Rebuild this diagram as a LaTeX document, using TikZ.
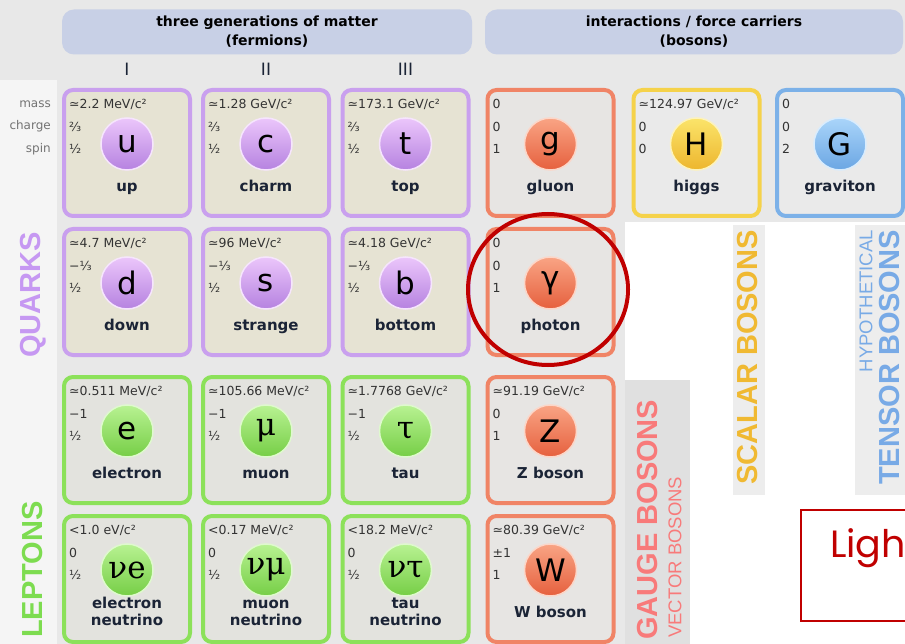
\documentclass[tikz,border=0pt]{standalone}
\usepackage{fontspec}
\setmainfont{DejaVu Sans}
\newfontfamily\arial{Liberation Sans}
\newfontfamily\grec{DejaVu Serif}
\newfontfamily\poppins{Poppins}
\usetikzlibrary{shapes.geometric}

\definecolor{quarkvora}{HTML}{C9A0EE}
\definecolor{quarkfons}{HTML}{E6E3D3}
\definecolor{quarkalt}{HTML}{EBC6FB}
\definecolor{quarkbaix}{HTML}{B682E0}
\definecolor{leptovora}{HTML}{8CE15A}
\definecolor{leptofons}{HTML}{E3E3DE}
\definecolor{leptoalt}{HTML}{B8F292}
\definecolor{leptobaix}{HTML}{76CE46}
\definecolor{gaugevora}{HTML}{F08466}
\definecolor{gaugefons}{HTML}{E7E5E3}
\definecolor{gaugealt}{HTML}{F9A484}
\definecolor{gaugebaix}{HTML}{E6603E}
\definecolor{higgsvora}{HTML}{F5D24A}
\definecolor{higgsfons}{HTML}{EAEAEA}
\definecolor{higgsalt}{HTML}{FBE46A}
\definecolor{higgsbaix}{HTML}{EDB62E}
\definecolor{gravvora}{HTML}{7CB1E8}
\definecolor{gravfons}{HTML}{EAEAEA}
\definecolor{gravalt}{HTML}{AAD5FA}
\definecolor{gravbaix}{HTML}{6BA6E3}
\definecolor{nomcol}{HTML}{1B2436}
\definecolor{capfons}{HTML}{C8D0E6}
\definecolor{vermell}{HTML}{C00000}

% cel.la: nom, centre, familia, simbol, etiqueta, massa, carrega, espin
\newcommand{\particula}[8]{%
  \node[cella=#3] (#1) at (#2) {};
  \node[bola=#3] (#1-b) at ([yshift=9pt]#1.center) {#4};
  \node[nom] (#1-n) at ([yshift=-34pt]#1.center) {\vphantom{bg}#5};
  \node[dada] (#1-m) at ([xshift=5pt,yshift=-14pt]#1.north west) {#6};
  \node[dada] (#1-q) at ([xshift=5pt,yshift=-37pt]#1.north west) {#7};
  \node[dada] (#1-s) at ([xshift=5pt,yshift=-59pt]#1.north west) {#8};
}

\begin{document}
\begin{tikzpicture}[x=1pt, y=-1pt,
  cella/.style={draw=#1vora, fill=#1fons, line width=4pt, rounded corners=9pt,
    minimum size=126pt, inner sep=0pt, outer sep=0pt},
  bola/.style={circle, minimum size=52pt, inner sep=0pt, top color=#1alt,
    bottom color=#1baix, draw=white!55!#1alt, line width=1.5pt,
    font=\fontsize{31}{31}\selectfont},
  nom/.style={align=center, text=nomcol, font=\bfseries\fontsize{15}{17}\selectfont},
  dada/.style={anchor=west, inner sep=0pt, text=black!80,
    font=\fontsize{12.5}{14}\selectfont},
  rotul/.style={anchor=east, inner sep=0pt, text=black!55,
    font=\fontsize{12}{14}\selectfont},
  capcal/.style={fill=capfons, rounded corners=12pt, minimum height=45pt,
    align=center, font=\bfseries\fontsize{14}{19}\selectfont},
  etiq/.style={rotate=90, inner sep=0pt, font=\arial\bfseries\fontsize{29}{29}\selectfont},
  etiqfina/.style={rotate=90, inner sep=0pt, font=\arial\fontsize{18.5}{18.5}\selectfont}]
  \useasboundingbox (0,0) rectangle (905,644);
  \clip (0,0) rectangle (905,644);

  % fons
  \fill[black!9] (0,0) rectangle (905,644);
  \fill[black!4] (0,80) rectangle (57,644);
  \fill[white] (625,222) rectangle (905,644);
  \fill[black!7] (733,225) rectangle (765,495);
  \fill[black!7] (855,225) rectangle (905,495);
  \fill[black!12] (625,380) rectangle (690,644);

  % capcaleres
  \node[capcal, minimum width=410pt] (fermions) at (267,32)
    {three generations of matter\\(fermions)};
  \node[capcal, minimum width=418pt] (bosons) at (694,32)
    {interactions / force carriers\\(bosons)};
  \node[text=nomcol, font=\fontsize{17}{17}\selectfont] (genI) at (127,69) {I};
  \node[text=nomcol, font=\fontsize{17}{17}\selectfont] (genII) at (266,69) {II};
  \node[text=nomcol, font=\fontsize{17}{17}\selectfont] (genIII) at (405.5,69) {III};

  \node[rotul] (massa) at (51,104) {mass};
  \node[rotul] (carrega) at (51,126) {charge};
  \node[rotul] (espin) at (51,149) {spin};

  % quarks
  \particula{u}{127,153}{quark}{u}{up}{≃2.2 MeV/c²}{⅔}{½}
  \particula{c}{266,153}{quark}{c}{charm}{≃1.28 GeV/c²}{⅔}{½}
  \particula{t}{405.5,153}{quark}{t}{top}{≃173.1 GeV/c²}{⅔}{½}
  \particula{d}{127,292}{quark}{d}{down}{≃4.7 MeV/c²}{−⅓}{½}
  \particula{s}{266,292}{quark}{s}{strange}{≃96 MeV/c²}{−⅓}{½}
  \particula{b}{405.5,292}{quark}{b}{bottom}{≃4.18 GeV/c²}{−⅓}{½}
  % leptons
  \particula{e}{127,440}{lepto}{e}{electron}{≃0.511 MeV/c²}{−1}{½}
  \particula{mu}{266,440}{lepto}{\grec μ}{muon}{≃105.66 MeV/c²}{−1}{½}
  \particula{tau}{405.5,440}{lepto}{\grec τ}{tau}{≃1.7768 GeV/c²}{−1}{½}
  \particula{ne}{127,579}{lepto}{\grec νe}{electron\\neutrino\vphantom{g}}{<1.0 eV/c²}{0}{½}
  \particula{nmu}{266,579}{lepto}{\grec νμ}{muon\\neutrino\vphantom{g}}{<0.17 MeV/c²}{0}{½}
  \particula{ntau}{405.5,579}{lepto}{\grec ντ}{tau\\neutrino\vphantom{g}}{<18.2 MeV/c²}{0}{½}
  % bosons
  \particula{g}{550.5,153}{gauge}{g}{gluon}{0}{0}{1}
  \particula{gam}{550.5,292}{gauge}{γ}{photon}{0}{0}{1}
  \particula{Z}{550.5,440}{gauge}{Z}{Z boson}{≃91.19 GeV/c²}{0}{1}
  \particula{W}{550.5,579}{gauge}{W}{W boson}{≃80.39 GeV/c²}{±1}{1}
  \particula{H}{696.5,153}{higgs}{H}{higgs}{≃124.97 GeV/c²}{0}{0}
  \particula{G}{840,153}{grav}{G}{graviton}{0}{0}{2}

  % rotuls verticals
  \node[etiq, text={rgb,255:red,198;green,152;blue,242}] (quarks) at (33,295) {QUARKS};
  \node[etiq, anchor=west, text={rgb,255:red,125;green,220;blue,80}] (leptons) at (33,638) {LEPTONS};
  \node[etiq, anchor=west, text={rgb,255:red,248;green,122;blue,122}] (gauge) at (648,640) {GAUGE BOSONS};
  \node[etiqfina, anchor=west, text={rgb,255:red,248;green,122;blue,122}] (vector) at (675,638) {VECTOR BOSONS};
  \node[etiq, anchor=east, text={rgb,255:red,240;green,185;blue,50}] (scalar) at (748,230) {SCALAR BOSONS};
  \node[etiqfina, anchor=east, text={rgb,255:red,120;green,170;blue,230}] (hipot) at (866,230) {HYPOTHETICAL};
  \node[etiq, anchor=east, text={rgb,255:red,120;green,170;blue,230}] (tensor) at (889.5,230) {TENSOR BOSONS};

  % marca del foto
  \node[ellipse, draw=vermell, line width=4pt, minimum width=160pt, minimum height=151pt,
    inner sep=0pt] (marca) at (548,289.5) {};
  \node[draw=vermell, line width=2pt, fill=white, minimum width=124pt, minimum height=111pt,
    inner sep=0pt] (llum) at (863,565.5) {};
  \node[anchor=base west, inner sep=0pt, text=vermell, font=\poppins\fontsize{38}{38}\selectfont]
    (llumtext) at (830,557) {Ligh};
\end{tikzpicture}
\end{document}
